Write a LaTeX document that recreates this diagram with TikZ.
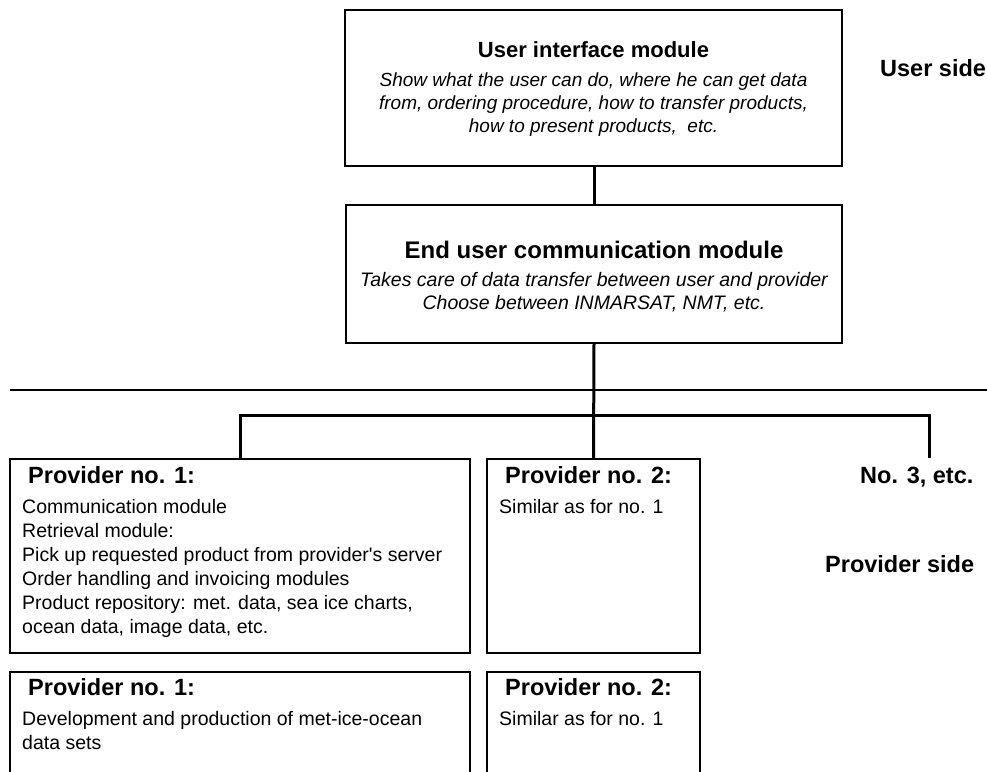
\documentclass[tikz,border=0pt]{standalone}
\usepackage{fontspec}
\setmainfont{Liberation Sans}[Ligatures=TeXOff]
\begin{document}
\begin{tikzpicture}[x=1pt,y=-1pt,
  box/.style={draw,line width=1.3pt,rectangle,inner sep=0pt,outer sep=0pt,anchor=north west},
  wire/.style={line width=3pt},
  rule/.style={line width=1.5pt},
  head/.style={font=\bfseries\fontsize{23.5}{28}\selectfont,inner sep=0pt},
  body/.style={font=\fontsize{19.5}{24}\selectfont,inner sep=0pt,align=left},
  note/.style={font=\itshape\fontsize{19}{23}\selectfont,inner sep=0pt,align=center},
]
\useasboundingbox (0,0) rectangle (987,771);
\clip (0,0) rectangle (987,771);

% module boxes
\node[box,minimum width=497pt,minimum height=156pt] (ui)   at (345,10)  {};
\node[box,minimum width=496pt,minimum height=138pt] (comm) at (346,205) {};
\node[box,minimum width=460pt,minimum height=194pt] (p1)   at (10,459)  {};
\node[box,minimum width=213pt,minimum height=194pt] (p2)   at (487,459) {};
\node[box,minimum width=460pt,minimum height=140pt] (d1)   at (10,672)  {};
\node[box,minimum width=213pt,minimum height=140pt] (d2)   at (487,672) {};

% user side
\node[head,font=\bfseries\fontsize{22}{26}\selectfont,anchor=base] (uit) at (593.5,57) {User interface module};
\node[note,anchor=north] (uin) at (593.5,72.5)
  {Show what the user can do, where he can get data\\
   from, ordering procedure, how to transfer products,\\
   how to present products,\ \ etc.};
\node[head,anchor=base west] (us) at (880,76) {User side};

\node[head,font=\bfseries\fontsize{24}{28}\selectfont,anchor=base] (cmt) at (594,258) {End user communication module};
\node[note,font=\itshape\fontsize{19.5}{23}\selectfont,anchor=north] (cmn) at (594,272)
  {Takes care of data transfer between user and provider\\
   Choose between INMARSAT, NMT, etc.};

% provider side
\node[head,anchor=base west] (p1t) at (28,483) {Provider no. 1:};
\node[body,anchor=north west] (p1b) at (22,499)
  {Communication module\\
   Retrieval module:\\
   Pick up requested product from provider's server\\
   Order handling and invoicing modules\\
   Product repository: met. data, sea ice charts,\\
   ocean data, image data, etc.};
\node[head,anchor=base west] (p2t) at (505,483) {Provider no. 2:};
\node[body,anchor=base west] (p2b) at (499,513) {Similar as for no. 1};

\node[head,anchor=base west] (d1t) at (28,695) {Provider no. 1:};
\node[body,anchor=north west] (d1b) at (22,711)
  {Development and production of met-ice-ocean\\
   data sets};
\node[head,anchor=base west] (d2t) at (505,695) {Provider no. 2:};
\node[body,anchor=base west] (d2b) at (499,725) {Similar as for no. 1};

\node[head,anchor=base west] (n3) at (860,483) {No. 3, etc.};
\node[head,anchor=base west] (ps) at (825,572) {Provider side};

% separator between user side and provider side
\coordinate (sepL) at (10,390);
\coordinate (sepR) at (987,390);
\draw[rule] (sepL) -- (sepR);

% connectors
\coordinate (bus) at (594,415);
\coordinate (m3)  at (929,458);
\draw[wire] (ui.south -| comm.north) -- (comm.north);
\draw[wire] (comm.south) -- (p2.north);
\draw[wire] (p1.north) |- (bus) -| (m3);
\end{tikzpicture}
\end{document}
